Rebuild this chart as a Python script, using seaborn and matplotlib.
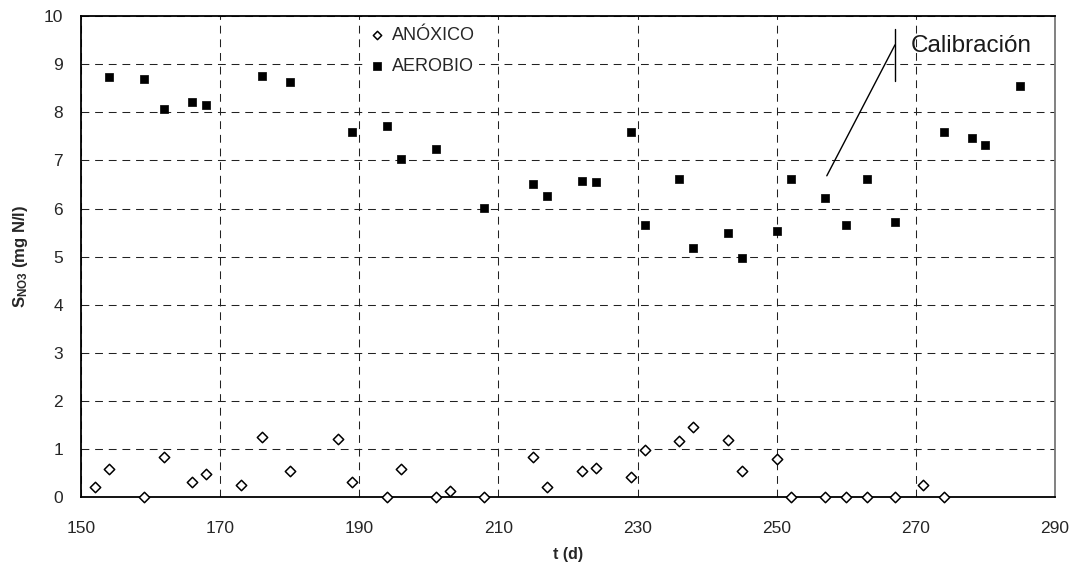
import pandas as pd
import matplotlib.pyplot as plt
import seaborn as sns

# Data
dias_anox = [152, 154, 159, 162, 166, 168, 173, 176, 180, 187, 189, 194, 196,
             201, 203, 208, 215, 217, 222, 224, 229, 231, 236, 238, 243, 245,
             250, 252, 257, 260, 263, 267, 271, 274]
anoxico = [0.22, 0.58, 0.0, 0.84, 0.31, 0.48, 0.25, 1.25, 0.55, 1.22, 0.31, 0.0, 0.58,
           0.0, 0.14, 0.0, 0.84, 0.22, 0.55, 0.61, 0.42, 0.98, 1.16, 1.47, 1.19, 0.55,
           0.80, 0.0, 0.0, 0.0, 0.0, 0.0, 0.25, 0.0]

dias_aer = [154, 159, 162, 166, 168, 176, 180, 189, 194, 196, 201, 208, 215, 217,
            222, 224, 229, 231, 236, 238, 243, 245, 250, 252, 257, 260, 263, 267,
            274, 278, 280, 285]
aerobio = [8.74, 8.70, 8.07, 8.21, 8.15, 8.76, 8.62, 7.60, 7.71, 7.02, 7.24, 6.02, 6.52, 6.27,
           6.58, 6.55, 7.60, 5.66, 6.61, 5.17, 5.50, 4.98, 5.53, 6.61, 6.22, 5.66, 6.61, 5.72,
           7.58, 7.47, 7.33, 8.55]

df_anox = pd.DataFrame({"t": dias_anox, "S": anoxico})
df_aer = pd.DataFrame({"t": dias_aer, "S": aerobio})

sns.set_style("white")
plt.rcParams["font.family"] = ["Liberation Sans", "DejaVu Sans"]
plt.rcParams["mathtext.fontset"] = "custom"
plt.rcParams["mathtext.rm"] = "Liberation Sans"
plt.rcParams["mathtext.bf"] = "Liberation Sans:bold"

fig = plt.figure(figsize=(10.75, 5.74), dpi=100)
ax = fig.add_axes([0.0753, 0.1336, 0.9061, 0.8385])

sns.scatterplot(data=df_anox, x="t", y="S", marker="D", s=28, facecolor="white",
                edgecolor="black", linewidth=1.1, label="ANÓXICO", ax=ax,
                zorder=5, clip_on=False)
sns.scatterplot(data=df_aer, x="t", y="S", marker="s", s=40, color="black",
                edgecolor="black", linewidth=0.5, label="AEROBIO", ax=ax,
                zorder=5, clip_on=False)

ax.set_xlim(150, 290)
ax.set_ylim(0, 10)
ax.set_xticks(range(150, 291, 20))
ax.set_yticks(range(0, 11))
ax.grid(True, color="#222222", linestyle=(0, (7.5, 5.6)), linewidth=0.75)
ax.set_axisbelow(True)

for s in ["left", "bottom", "top"]:
    ax.spines[s].set_color("black")
    ax.spines[s].set_linewidth(1.3)
ax.spines["right"].set_color("#777777")
ax.spines["right"].set_linewidth(1.3)

ax.tick_params(axis="x", direction="out", length=5, width=1, pad=12, labelsize=12.5)
ax.tick_params(axis="y", direction="out", length=5, width=1, pad=8, labelsize=12.5)

ax.set_xlabel("t (d)", fontsize=11.5, fontweight="bold", labelpad=8)
ax.set_ylabel(r"$\mathbf{S_{NO3}}$ (mg N/l)", fontsize=12, fontweight="bold", labelpad=10)

# Calibration annotation
ax.plot([267, 267], [8.65, 9.73], color="black", linewidth=1, zorder=6)
ax.plot([257.2, 267], [6.68, 9.4], color="black", linewidth=1, zorder=6)
ax.text(269.2, 9.38, "Calibración", fontsize=17.5, va="center", ha="left", color="#1a1a1a")

leg = ax.legend(loc="upper left", bbox_to_anchor=(0.292, 0.993), frameon=True, fontsize=13,
                handlelength=0.5, handletextpad=0.55, labelspacing=0.78, borderaxespad=0.15,
                borderpad=0.25, markerscale=0.8, facecolor="white", edgecolor="none",
                framealpha=1, fancybox=False)
leg.set_zorder(4)

plt.savefig("out.png", dpi=100)
